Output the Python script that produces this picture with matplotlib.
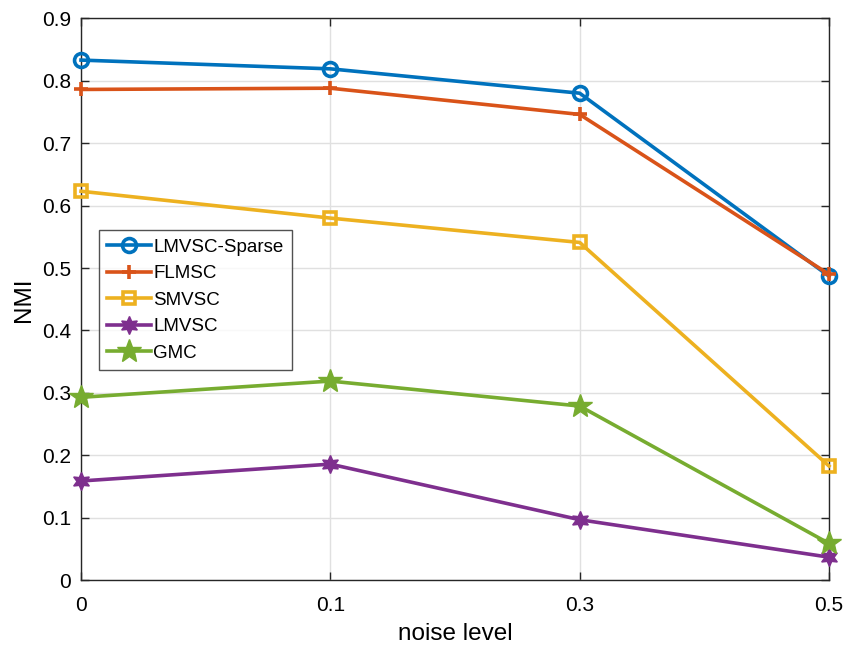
import matplotlib.pyplot as plt
import numpy as np

plt.rcParams['font.family'] = ['Liberation Sans', 'DejaVu Sans']

noise = ['0', '0.1', '0.3', '0.5']
lmvsc_sparse = [0.833, 0.819, 0.780, 0.487]
flmsc = [0.786, 0.788, 0.746, 0.490]
smvsc = [0.623, 0.580, 0.541, 0.183]
lmvsc = [0.159, 0.186, 0.097, 0.037]
gmc = [0.293, 0.319, 0.279, 0.059]

x = np.arange(len(noise))

fig = plt.figure(figsize=(8.5, 6.52), dpi=100)
ax = fig.add_axes([0.0953, 0.110, 0.880, 0.862])

lw = 2.6
kw = dict(lw=lw, clip_on=False, zorder=3)
ax.plot(x, lmvsc_sparse, color='#0072BD', marker='o', ms=10,
        mfc='none', mew=2.6, label='LMVSC-Sparse', **kw)
ax.plot(x, flmsc, color='#D95319', marker='+', ms=10, mew=2.6,
        label='FLMSC', **kw)
ax.plot(x, smvsc, color='#EDB120', marker='s', ms=8,
        mfc='none', mew=2.6, label='SMVSC', **kw)
ax.plot(x, lmvsc, color='#7E2F8E', marker=(6, 1, 0), ms=13,
        label='LMVSC', **kw)
ax.plot(x, gmc, color='#77AC30', marker='*', ms=18,
        label='GMC', **kw)

ax.set_xlim(0, 3)
ax.set_ylim(0, 0.9)
ax.set_xticks(x)
ax.set_xticklabels(noise)
ax.set_yticks(np.arange(0, 0.91, 0.1))
ax.set_yticklabels(['0'] + ['%.1f' % v for v in np.arange(0.1, 0.91, 0.1)])
ax.grid(True, color='#e0e0e0', lw=1)
ax.set_axisbelow(True)

ax.tick_params(direction='in', length=6, width=1, colors='#262626',
               labelcolor='black', labelsize=15, top=True, right=True)
ax.tick_params(axis='y', pad=7)
ax.tick_params(axis='x', pad=11)
for s in ax.spines.values():
    s.set_color('#262626')
    s.set_linewidth(1)

ax.set_xlabel('noise level', fontsize=17.5, labelpad=6)
ax.set_ylabel('NMI', fontsize=17.5, labelpad=5)

leg = ax.legend(loc='upper left', bbox_to_anchor=(0.024, 0.623), fontsize=13.5,
                frameon=True, fancybox=False, edgecolor='#262626',
                handlelength=2.3, handletextpad=0.15, borderpad=0.45,
                labelspacing=0.5, borderaxespad=0)
leg.get_frame().set_linewidth(1)

fig.savefig('out.png', dpi=100)
